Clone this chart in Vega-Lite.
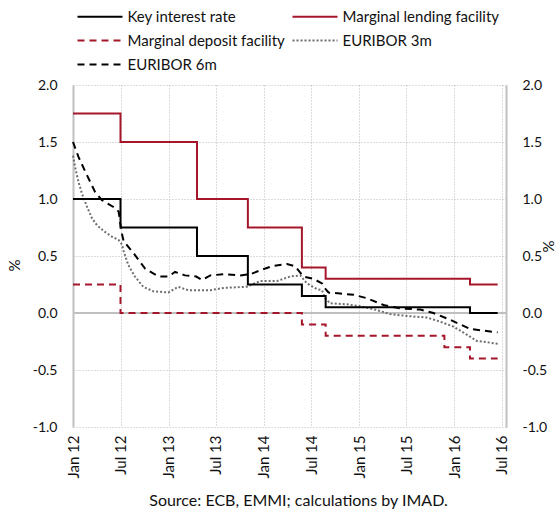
{
  "$schema": "https://vega.github.io/schema/vega-lite/v6.json",
  "width": 433,
  "height": 342,
  "autosize": {"type": "none"},
  "padding": {"left": 73, "top": 85, "right": 53, "bottom": 82},
  "background": "white",
  "config": {
    "font": "Lato",
    "view": {"stroke": null},
    "axis": {"labelFont": "Lato", "titleFont": "Lato", "labelColor": "#111", "titleColor": "#111"}
  },
  "datasets": {
    "rates": [
      {"date": "2012-01-01", "value": 1.00, "series": "Key interest rate"},
      {"date": "2012-07-01", "value": 0.75, "series": "Key interest rate"},
      {"date": "2013-04-20", "value": 0.50, "series": "Key interest rate"},
      {"date": "2013-11-01", "value": 0.25, "series": "Key interest rate"},
      {"date": "2014-05-27", "value": 0.15, "series": "Key interest rate"},
      {"date": "2014-08-26", "value": 0.05, "series": "Key interest rate"},
      {"date": "2016-03-01", "value": 0.00, "series": "Key interest rate"},
      {"date": "2016-06-15", "value": 0.00, "series": "Key interest rate"},
      {"date": "2012-01-01", "value": 1.75, "series": "Marginal lending facility"},
      {"date": "2012-07-01", "value": 1.50, "series": "Marginal lending facility"},
      {"date": "2013-04-20", "value": 1.00, "series": "Marginal lending facility"},
      {"date": "2013-11-01", "value": 0.75, "series": "Marginal lending facility"},
      {"date": "2014-05-27", "value": 0.40, "series": "Marginal lending facility"},
      {"date": "2014-08-26", "value": 0.30, "series": "Marginal lending facility"},
      {"date": "2016-03-01", "value": 0.25, "series": "Marginal lending facility"},
      {"date": "2016-06-15", "value": 0.25, "series": "Marginal lending facility"},
      {"date": "2012-01-01", "value": 0.25, "series": "Marginal deposit facility"},
      {"date": "2012-07-01", "value": 0.00, "series": "Marginal deposit facility"},
      {"date": "2014-05-27", "value": -0.10, "series": "Marginal deposit facility"},
      {"date": "2014-08-26", "value": -0.20, "series": "Marginal deposit facility"},
      {"date": "2015-11-24", "value": -0.30, "series": "Marginal deposit facility"},
      {"date": "2016-03-01", "value": -0.40, "series": "Marginal deposit facility"},
      {"date": "2016-06-15", "value": -0.40, "series": "Marginal deposit facility"}
    ],
    "euribor": [
      {"date": "2012-01-01", "value": 1.38, "series": "EURIBOR 3m"},
      {"date": "2012-01-10", "value": 1.27, "series": "EURIBOR 3m"},
      {"date": "2012-01-22", "value": 1.15, "series": "EURIBOR 3m"},
      {"date": "2012-02-04", "value": 1.05, "series": "EURIBOR 3m"},
      {"date": "2012-02-24", "value": 0.93, "series": "EURIBOR 3m"},
      {"date": "2012-03-14", "value": 0.83, "series": "EURIBOR 3m"},
      {"date": "2012-04-02", "value": 0.77, "series": "EURIBOR 3m"},
      {"date": "2012-04-27", "value": 0.72, "series": "EURIBOR 3m"},
      {"date": "2012-05-29", "value": 0.67, "series": "EURIBOR 3m"},
      {"date": "2012-06-24", "value": 0.64, "series": "EURIBOR 3m"},
      {"date": "2012-07-07", "value": 0.60, "series": "EURIBOR 3m"},
      {"date": "2012-07-12", "value": 0.55, "series": "EURIBOR 3m"},
      {"date": "2012-07-31", "value": 0.42, "series": "EURIBOR 3m"},
      {"date": "2012-08-25", "value": 0.32, "series": "EURIBOR 3m"},
      {"date": "2012-09-26", "value": 0.23, "series": "EURIBOR 3m"},
      {"date": "2012-11-04", "value": 0.19, "series": "EURIBOR 3m"},
      {"date": "2012-12-31", "value": 0.18, "series": "EURIBOR 3m"},
      {"date": "2013-02-07", "value": 0.23, "series": "EURIBOR 3m"},
      {"date": "2013-03-17", "value": 0.20, "series": "EURIBOR 3m"},
      {"date": "2013-04-17", "value": 0.20, "series": "EURIBOR 3m"},
      {"date": "2013-06-10", "value": 0.20, "series": "EURIBOR 3m"},
      {"date": "2013-07-31", "value": 0.22, "series": "EURIBOR 3m"},
      {"date": "2013-10-28", "value": 0.23, "series": "EURIBOR 3m"},
      {"date": "2013-12-18", "value": 0.28, "series": "EURIBOR 3m"},
      {"date": "2014-02-20", "value": 0.28, "series": "EURIBOR 3m"},
      {"date": "2014-04-12", "value": 0.32, "series": "EURIBOR 3m"},
      {"date": "2014-05-21", "value": 0.33, "series": "EURIBOR 3m"},
      {"date": "2014-06-15", "value": 0.26, "series": "EURIBOR 3m"},
      {"date": "2014-07-23", "value": 0.21, "series": "EURIBOR 3m"},
      {"date": "2014-08-12", "value": 0.20, "series": "EURIBOR 3m"},
      {"date": "2014-08-24", "value": 0.13, "series": "EURIBOR 3m"},
      {"date": "2014-09-12", "value": 0.085, "series": "EURIBOR 3m"},
      {"date": "2014-11-15", "value": 0.076, "series": "EURIBOR 3m"},
      {"date": "2015-01-05", "value": 0.06, "series": "EURIBOR 3m"},
      {"date": "2015-03-10", "value": 0.026, "series": "EURIBOR 3m"},
      {"date": "2015-04-30", "value": -0.01, "series": "EURIBOR 3m"},
      {"date": "2015-07-03", "value": -0.026, "series": "EURIBOR 3m"},
      {"date": "2015-09-18", "value": -0.04, "series": "EURIBOR 3m"},
      {"date": "2015-11-08", "value": -0.076, "series": "EURIBOR 3m"},
      {"date": "2015-12-29", "value": -0.12, "series": "EURIBOR 3m"},
      {"date": "2016-02-18", "value": -0.19, "series": "EURIBOR 3m"},
      {"date": "2016-03-27", "value": -0.245, "series": "EURIBOR 3m"},
      {"date": "2016-05-16", "value": -0.26, "series": "EURIBOR 3m"},
      {"date": "2016-06-15", "value": -0.27, "series": "EURIBOR 3m"},
      {"date": "2012-01-01", "value": 1.50, "series": "EURIBOR 6m"},
      {"date": "2012-01-22", "value": 1.37, "series": "EURIBOR 6m"},
      {"date": "2012-02-17", "value": 1.24, "series": "EURIBOR 6m"},
      {"date": "2012-03-07", "value": 1.15, "series": "EURIBOR 6m"},
      {"date": "2012-03-26", "value": 1.06, "series": "EURIBOR 6m"},
      {"date": "2012-04-21", "value": 0.99, "series": "EURIBOR 6m"},
      {"date": "2012-06-04", "value": 0.93, "series": "EURIBOR 6m"},
      {"date": "2012-06-24", "value": 0.89, "series": "EURIBOR 6m"},
      {"date": "2012-06-30", "value": 0.79, "series": "EURIBOR 6m"},
      {"date": "2012-07-07", "value": 0.69, "series": "EURIBOR 6m"},
      {"date": "2012-07-13", "value": 0.63, "series": "EURIBOR 6m"},
      {"date": "2012-08-25", "value": 0.51, "series": "EURIBOR 6m"},
      {"date": "2012-10-03", "value": 0.39, "series": "EURIBOR 6m"},
      {"date": "2012-11-23", "value": 0.32, "series": "EURIBOR 6m"},
      {"date": "2012-12-31", "value": 0.32, "series": "EURIBOR 6m"},
      {"date": "2013-01-26", "value": 0.36, "series": "EURIBOR 6m"},
      {"date": "2013-03-05", "value": 0.33, "series": "EURIBOR 6m"},
      {"date": "2013-04-17", "value": 0.32, "series": "EURIBOR 6m"},
      {"date": "2013-05-09", "value": 0.29, "series": "EURIBOR 6m"},
      {"date": "2013-06-10", "value": 0.33, "series": "EURIBOR 6m"},
      {"date": "2013-07-31", "value": 0.34, "series": "EURIBOR 6m"},
      {"date": "2013-10-03", "value": 0.33, "series": "EURIBOR 6m"},
      {"date": "2013-11-10", "value": 0.34, "series": "EURIBOR 6m"},
      {"date": "2013-12-25", "value": 0.38, "series": "EURIBOR 6m"},
      {"date": "2014-02-01", "value": 0.41, "series": "EURIBOR 6m"},
      {"date": "2014-03-31", "value": 0.43, "series": "EURIBOR 6m"},
      {"date": "2014-05-01", "value": 0.41, "series": "EURIBOR 6m"},
      {"date": "2014-06-02", "value": 0.32, "series": "EURIBOR 6m"},
      {"date": "2014-07-10", "value": 0.30, "series": "EURIBOR 6m"},
      {"date": "2014-08-12", "value": 0.26, "series": "EURIBOR 6m"},
      {"date": "2014-08-18", "value": 0.23, "series": "EURIBOR 6m"},
      {"date": "2014-09-06", "value": 0.18, "series": "EURIBOR 6m"},
      {"date": "2014-10-21", "value": 0.17, "series": "EURIBOR 6m"},
      {"date": "2014-12-11", "value": 0.16, "series": "EURIBOR 6m"},
      {"date": "2015-01-31", "value": 0.13, "series": "EURIBOR 6m"},
      {"date": "2015-04-05", "value": 0.07, "series": "EURIBOR 6m"},
      {"date": "2015-06-08", "value": 0.04, "series": "EURIBOR 6m"},
      {"date": "2015-08-23", "value": 0.03, "series": "EURIBOR 6m"},
      {"date": "2015-10-13", "value": 0.00, "series": "EURIBOR 6m"},
      {"date": "2015-12-16", "value": -0.06, "series": "EURIBOR 6m"},
      {"date": "2016-01-24", "value": -0.10, "series": "EURIBOR 6m"},
      {"date": "2016-03-02", "value": -0.14, "series": "EURIBOR 6m"},
      {"date": "2016-04-22", "value": -0.155, "series": "EURIBOR 6m"},
      {"date": "2016-06-15", "value": -0.17, "series": "EURIBOR 6m"}
    ],
    "baseline": [{"level": 0}]
  },
  "resolve": {"axis": {"y": "independent"}},
  "layer": [
    {
      "data": {"name": "baseline"},
      "mark": {"type": "rule", "color": "#c0c0c0", "strokeWidth": 2},
      "encoding": {
        "y": {
          "field": "level", "type": "quantitative",
          "scale": {"domain": [-1, 2], "nice": false, "zero": false},
          "axis": {
            "orient": "right", "values": [-1, -0.5, 0, 0.5, 1, 1.5, 2],
            "labelExpr": "replace(format(datum.value, '.1f'), '\u2212', '-')",
            "grid": false, "ticks": false, "domain": true, "domainColor": "#c0c0c0", "domainWidth": 2,
            "labelPadding": 16, "labelFontSize": 14, "labelAlign": "left",
            "title": "%", "titleFontSize": 15, "titleFontWeight": "normal",
            "titleAngle": 270, "titleAlign": "center", "titleBaseline": "middle",
            "titleX": 42, "titleY": 161
          }
        }
      }
    },
    {
      "data": {"name": "euribor"},
      "mark": {"type": "line", "strokeWidth": 2, "interpolate": "linear"},
      "encoding": {
        "x": {
          "field": "date", "type": "temporal",
          "scale": {"type": "utc", "domain": [{"year": 2012, "month": 1, "date": 1, "utc": true}, {"year": 2016, "month": 7, "date": 17, "utc": true}]},
          "axis": {
            "tickCount": {"interval": "month", "step": 6}, "format": "%b %y",
            "labelAngle": 270, "labelAlign": "right", "labelBaseline": "middle",
            "labelPadding": 8, "labelFontSize": 15, "ticks": false, "domain": false,
            "grid": true, "gridColor": "#b8b8b8", "gridDash": [1, 2], "gridWidth": 1,
            "labelOverlap": false, "labelFlush": false,
            "title": "Source: ECB, EMMI; calculations by IMAD.", "titleFontSize": 16, "titleFontWeight": "normal",
            "titleAnchor": null, "titleAlign": "center", "titleBaseline": "alphabetic",
            "titleX": 225, "titleY": 78
          }
        },
        "y": {
          "field": "value", "type": "quantitative",
          "axis": {
            "orient": "left", "values": [-1, -0.5, 0, 0.5, 1, 1.5, 2],
            "labelExpr": "replace(format(datum.value, '.1f'), '\u2212', '-')",
            "grid": true, "gridColor": "#b8b8b8", "gridDash": [1, 2], "gridWidth": 1,
            "ticks": false, "domain": true, "domainColor": "#c0c0c0", "domainWidth": 2,
            "labelPadding": 16, "labelFontSize": 14,
            "title": "%", "titleFontSize": 15, "titleFontWeight": "normal",
            "titleAngle": 270, "titleAlign": "center", "titleBaseline": "middle",
            "titleX": -59, "titleY": 180
          }
        },
        "color": {
          "field": "series", "type": "nominal",
          "scale": {
            "domain": ["Key interest rate", "Marginal lending facility", "Marginal deposit facility", "EURIBOR 3m", "EURIBOR 6m"],
            "range": ["#000000", "#a5162b", "#a5162b", "#6e6e6e", "#000000"]
          },
          "legend": {
            "orient": "none", "legendX": 14.5, "legendY": -81, "columns": 2, "title": null,
            "symbolType": "M-2,0H2", "symbolSize": 506.25, "symbolStrokeWidth": 2,
            "labelFontSize": 15, "labelOffset": 15, "rowPadding": 3, "columnPadding": 3,
            "labelLimit": 0, "labelColor": "#111", "direction": "horizontal"
          }
        },
        "strokeDash": {
          "field": "series", "type": "nominal",
          "scale": {
            "domain": ["Key interest rate", "Marginal lending facility", "Marginal deposit facility", "EURIBOR 3m", "EURIBOR 6m"],
            "range": [[1, 0], [1, 0], [7, 5], [2, 2], [7, 5]]
          },
          "legend": {
            "orient": "none", "legendX": 14.5, "legendY": -81, "columns": 2, "title": null,
            "symbolType": "M-2,0H2", "symbolSize": 506.25, "symbolStrokeWidth": 2,
            "labelFontSize": 15, "labelOffset": 15, "rowPadding": 3, "columnPadding": 3,
            "labelLimit": 0, "labelColor": "#111", "direction": "horizontal"
          }
        }
      }
    },
    {
      "data": {"name": "rates"},
      "mark": {"type": "line", "strokeWidth": 2, "interpolate": "step-after"},
      "encoding": {
        "x": {"field": "date", "type": "temporal"},
        "y": {"field": "value", "type": "quantitative", "axis": null},
        "color": {"field": "series", "type": "nominal"},
        "strokeDash": {"field": "series", "type": "nominal"}
      }
    }
  ]
}
